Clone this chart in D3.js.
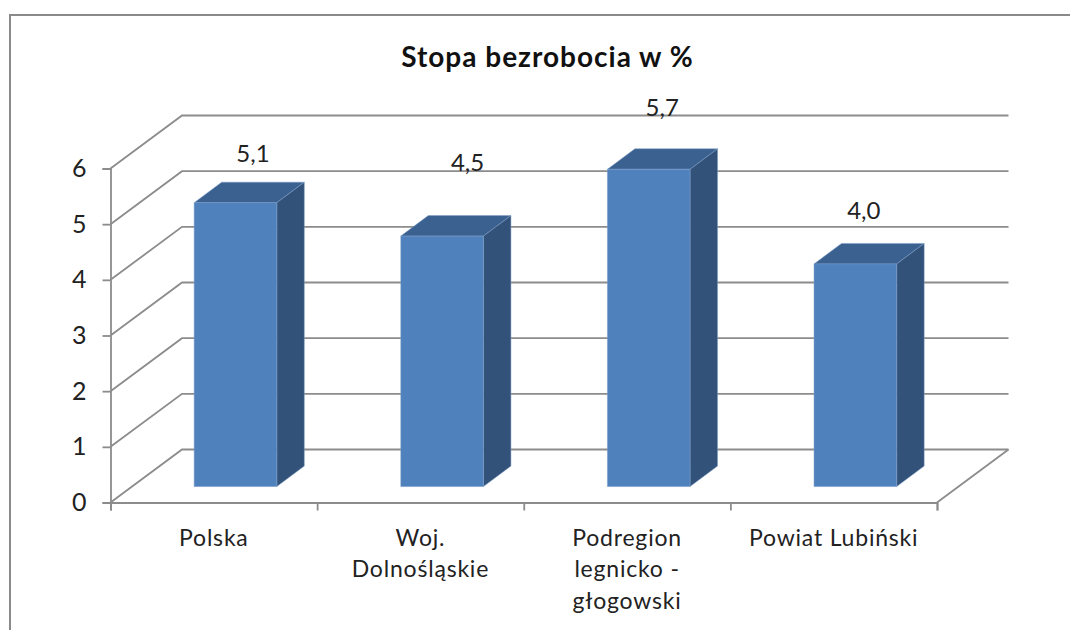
<!DOCTYPE html>
<html>
<head>
<meta charset="utf-8">
<script src="https://cdn.jsdelivr.net/npm/d3@7"></script>
<style>
  html, body { margin: 0; background: #fff; overflow: hidden; }
  svg { display: block; }
  text { font-family: Lato, "Open Sans", sans-serif; }
</style>
</head>
<body>
<script>
// values
var categories = ["Polska", "Woj. Dolnośląskie", "Podregion legnicko - głogowski", "Powiat Lubiński"]
var tickLabels = [["Polska"], ["Woj.", "Dolnośląskie"], ["Podregion", "legnicko -", "głogowski"], ["Powiat Lubiński"]]
var values = [5.1, 4.5, 5.7, 4.0]
var valueLabels = ["5,1", "4,5", "5,7", "4,0"]
var title = "Stopa bezrobocia w %"

// the data labels sit off the bars by hand in the original, in px from the bar's top front centre
var labelNudge = [[17, -40], [25, -65], [13, -53], [8, -44]]

var width = 1070, height = 630
var margin = {left: 110.5, right: 133, top: 168.5, bottom: 127.5}
var depth = {dx: 71.5, dy: -53} // how far the back wall is shifted from the front plane
var barDepth = {dx: 27.5, dy: -20.5}
var barStart = 0.31 // bar front as a share of the floor depth
var colors = {front: "#4f81bd", top: "#3a6190", side: "#325279", edge: "#7f9fc8", grid: "#8c8c8c", text: "#222"}

var xScale = d3.scaleBand()
    .domain(categories)
    .range([margin.left, width - margin.right])
    .paddingInner(0.6)
    .paddingOuter(0.3)
var xTicks = d3.scaleLinear().domain([0, 4]).range([margin.left, width - margin.right])
var yScale = d3.scaleLinear().domain([0, 6]).range([height - margin.bottom, margin.top])

const svg = d3.select("body").append("svg")
    .attr("width", width)
    .attr("height", height)

// frame runs off the picture on the right and at the bottom
svg.append("rect")
    .attr("x", 10).attr("y", 15)
    .attr("width", width + 20).attr("height", height + 20)
    .attr("fill", "#fff")
    .attr("stroke", "#8a8a8a")
    .attr("stroke-width", 2)

svg.append("text")
    .attr("x", 547.5).attr("y", 67)
    .attr("text-anchor", "middle")
    .attr("font-size", 28)
    .attr("letter-spacing", 1)
    .attr("font-weight", "bold")
    .attr("fill", "#111")
    .text(title)

// gridlines: one stroke along the side wall, then the back wall
var gridPath = d => {
    var x0 = margin.left, y = yScale(d)
    return `M${x0},${y}L${x0 + depth.dx},${y + depth.dy}H${width - margin.right + depth.dx}`
}
svg.append("g")
    .selectAll("path")
    .data(yScale.ticks(6))
    .join("path")
        .attr("d", gridPath)
        .attr("fill", "none")
        .attr("stroke", colors.grid)
        .attr("stroke-width", 1.8)

// right edge of the floor
svg.append("path")
    .attr("d", `M${width - margin.right},${yScale(0)}l${depth.dx},${depth.dy}`)
    .attr("fill", "none")
    .attr("stroke", colors.grid)
    .attr("stroke-width", 1.8)

// axes
var yAxis = d3.axisLeft(yScale).ticks(6).tickSize(8).tickPadding(16).tickFormat(d3.format("d"))
var gy = svg.append("g")
    .attr("transform", `translate(${margin.left},0)`)
    .call(yAxis)
gy.selectAll("text").attr("font-size", 25).attr("fill", colors.text)

var gx = svg.append("g")
    .attr("transform", `translate(0,${yScale(0)})`)
    .call(d3.axisBottom(xTicks).ticks(4).tickSize(8).tickFormat(""))

svg.selectAll(".domain, .tick line")
    .attr("stroke", colors.grid)
    .attr("stroke-width", 1.8)

var labelsX = d3.scaleBand().domain(categories).range([margin.left, width - margin.right])
var gl = svg.append("g")
    .attr("transform", `translate(0,${yScale(0)})`)
    .call(d3.axisBottom(labelsX).tickSize(0).tickFormat(""))
gl.select(".domain").remove()
gl.selectAll(".tick").select("text").remove()
gl.selectAll(".tick").append("text")
    .attr("text-anchor", "middle")
    .attr("font-size", 23)
    .attr("letter-spacing", 0.8)
    .attr("fill", colors.text)
    .selectAll("tspan")
    .data((d, i) => tickLabels[i])
    .join("tspan")
        .attr("x", 0)
        .attr("y", (d, i) => 43 + i * 31.5)
        .text(d => d)

// bars
var bars = svg.append("g")
    .selectAll("g")
    .data(values)
    .join("g")
        .attr("transform", `translate(${depth.dx * barStart - 0.5},${depth.dy * barStart + 0.5})`)

var bw = xScale.bandwidth()
bars.append("path") // top face
    .attr("d", (d, i) => {
        var x = xScale(categories[i]), y = yScale(d)
        return `M${x},${y}l${barDepth.dx},${barDepth.dy}h${bw}l${-barDepth.dx},${-barDepth.dy}Z`
    })
    .attr("fill", colors.top)
bars.append("path") // side face
    .attr("d", (d, i) => {
        var x = xScale(categories[i]) + bw, y = yScale(d)
        return `M${x},${y}l${barDepth.dx},${barDepth.dy}V${yScale(0) + barDepth.dy}L${x},${yScale(0)}Z`
    })
    .attr("fill", colors.side)
bars.append("rect") // front face
    .attr("x", (d, i) => xScale(categories[i]))
    .attr("y", d => yScale(d))
    .attr("width", bw)
    .attr("height", d => yScale(0) - yScale(d))
    .attr("fill", colors.front)
bars.selectAll("path, rect")
    .attr("stroke", colors.edge)
    .attr("stroke-width", 0.5)
    .attr("stroke-linejoin", "round")

// data labels
svg.append("g")
    .selectAll("text")
    .data(values)
    .join("text")
        .attr("x", (d, i) => xScale(categories[i]) + bw / 2 + depth.dx * barStart + labelNudge[i][0])
        .attr("y", (d, i) => yScale(d) + depth.dy * barStart + labelNudge[i][1])
        .attr("text-anchor", "middle")
        .attr("font-size", 24)
        .attr("fill", colors.text)
        .text((d, i) => valueLabels[i])
</script>
</body>
</html>
